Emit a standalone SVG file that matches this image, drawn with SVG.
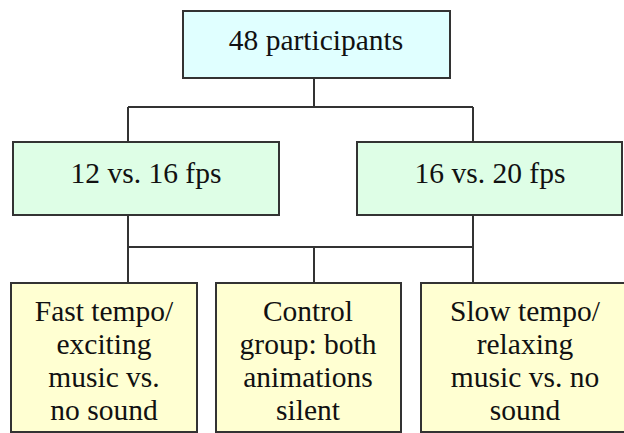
<svg xmlns="http://www.w3.org/2000/svg" width="624" height="433" viewBox="0 0 624 433">
<style>
.box{stroke:#333;stroke-width:2}
.top{fill:#E0FFFF}
.mid{fill:#DEFEE6}
.bot{fill:#FFFFD2}
text{font-family:"Liberation Serif","Times New Roman",serif;font-size:29.5px;fill:#111;text-anchor:middle}
.c{fill:none;stroke:#333;stroke-width:2}
</style>
<rect width="624" height="433" fill="#fff"/>
<g id="connectors">
<path class="c" d="M314 78V107M128 107H473M128 107V142M473 107V142"/>
<path class="c" d="M128 215V247M473 215V247M128 247H473M128 247V283M314 247V283M473 247V283"/>
</g>
<g id="n48">
<rect class="box top" x="183" y="11" width="267" height="67"/>
<text x="316" y="50">48 participants</text>
</g>
<g id="n12v16">
<rect class="box mid" x="13" y="142" width="266" height="73"/>
<text x="146" y="183">12 vs. 16 fps</text>
</g>
<g id="n16v20">
<rect class="box mid" x="357" y="142" width="265" height="73"/>
<text x="490" y="183">16 vs. 20 fps</text>
</g>
<g id="nfast">
<rect class="box bot" x="11" y="283" width="186" height="149"/>
<text x="104" y="321">Fast tempo/</text>
<text x="104" y="354">exciting</text>
<text x="104" y="387">music vs.</text>
<text x="104" y="420">no sound</text>
</g>
<g id="ncontrol">
<rect class="box bot" x="216" y="283" width="185" height="149"/>
<text x="308" y="321">Control</text>
<text x="308" y="354">group: both</text>
<text x="308" y="387">animations</text>
<text x="308" y="420">silent</text>
</g>
<g id="nslow">
<rect class="box bot" x="421" y="283" width="212" height="149"/>
<text x="525" y="321">Slow tempo/</text>
<text x="525" y="354">relaxing</text>
<text x="525" y="387">music vs. no</text>
<text x="525" y="420">sound</text>
</g>
</svg>
